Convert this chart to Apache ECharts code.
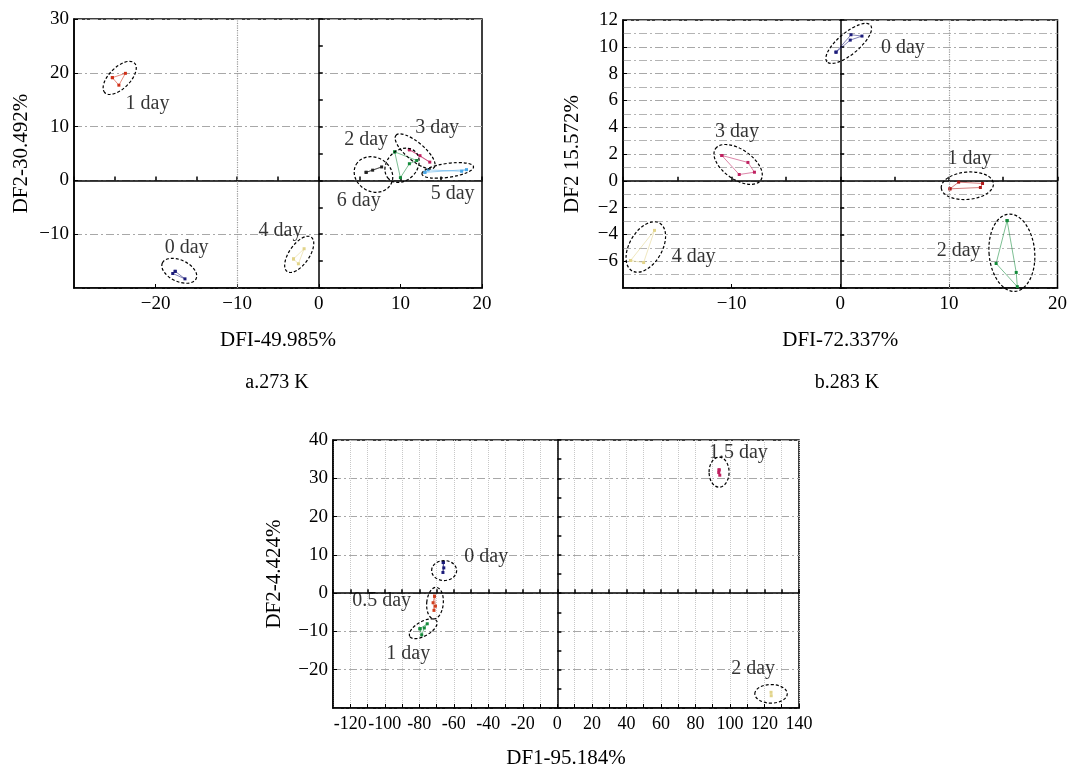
<!DOCTYPE html>
<html><head><meta charset="utf-8">
<script src="https://cdn.jsdelivr.net/npm/echarts@6/dist/echarts.min.js"></script>
<style>html,body{margin:0;padding:0;background:#fff}#c{width:1070px;height:774px}</style>
</head><body><div id="c"></div>
<script>
// ---------------- panel a : 273 K ----------------
const aXName = 'DFI-49.985%', aYName = 'DF2-30.492%', aCaption = 'a.273 K';
const aDay0 = [[-17.6,-16.9],[-17.9,-17.3],[-16.4,-18.3]];
const aDay1 = [[-25.3,19.1],[-23.7,19.9],[-24.5,17.7]];
const aDay2 = [[9.3,5.3],[12.0,3.7],[11.1,3.1],[10.0,0.5]];
const aDay3 = [[11.1,5.7],[12.4,4.6],[13.6,3.4]];
const aDay4 = [[-3.1,-14.6],[-1.8,-12.7],[-2.5,-15.5]];
const aDay5 = [[13.0,1.5],[18.1,2.0],[17.5,1.7],[13.4,1.95]];
const aDay6 = [[5.8,1.5],[7.7,2.5],[6.6,1.9]];
// ellipse: [centre x, centre y, half-axis (x units), half-axis (y units), tilt deg]
const aEllipses = [[-17.1,-16.8,2.28,1.99,-25],[-24.4,19.05,2.57,1.95,45],[10.2,2.8,2.33,2.79,45],[11.8,5.4,3.06,1.69,-40],[-2.4,-13.75,2.57,1.86,55],[15.8,1.86,3.19,1.3,8],[6.7,1.1,2.45,3.16,-30]];
const aLabels = ['0 day','1 day','2 day','3 day','4 day','5 day','6 day'];
const aLabelPos = [[-16.2,-12.5],[-21.0,14.3],[5.8,7.6],[14.5,9.85],[-4.7,-9.3],[16.4,-2.4],[4.9,-3.7]];
const aVGrid = [-10];

// ---------------- panel b : 283 K ----------------
const bXName = 'DFI-72.337%', bYName = 'DF2 15.572%', bCaption = 'b.283 K';
const bDay0 = [[-0.39,9.6],[0.92,10.5],[2.0,10.8],[0.99,10.9]];
const bDay1 = [[10.1,-0.6],[10.9,-0.1],[13.1,-0.2],[12.9,-0.5]];
const bDay2 = [[15.36,-2.97],[14.35,-6.17],[16.3,-7.9],[16.2,-6.84]];
const bDay3 = [[-10.9,1.89],[-8.5,1.37],[-7.9,0.64],[-9.3,0.47]];
const bDay4 = [[-19.3,-5.95],[-17.1,-3.7],[-18.1,-6.1]];
const bEllipses = [[0.78,10.25,2.62,0.8,40],[11.7,-0.37,2.41,1.02,5],[15.8,-5.37,2.1,2.89,5],[-9.4,1.22,2.54,1.11,-35],[-17.9,-4.94,2.54,1.22,60]];
const bLabels = ['0 day','1 day','2 day','3 day','4 day'];
const bLabelPos = [[5.76,9.9],[11.9,1.67],[10.9,-5.2],[-9.5,3.64],[-13.5,-5.7]];
const bVGrid = [10];

// ---------------- panel c ----------------
const cXName = 'DF1-95.184%', cYName = 'DF2-4.424%';
const cDay0 = [[-66.1,8.0],[-66.3,5.4],[-65.8,6.6]];
const cDay05 = [[-71.2,-0.8],[-72.0,-2.5],[-71.5,-4.5],[-70.6,-3.4]];
const cDay1 = [[-79.6,-9.3],[-75.4,-8.0],[-77.1,-9.1],[-78.6,-10.9]];
const cDay15 = [[93.7,32.2],[94.1,30.8],[93.5,31.5]];
const cDay2 = [[123.8,-25.9],[123.9,-26.8]];
const cEllipses = [[-65.6,5.9,7.24,2.61,0],[-70.9,-2.6,4.8,4.13,-5],[-77.7,-9.3,9.0,1.88,30],[93.7,31.6,5.8,3.92,0],[123.8,-26.3,9.4,2.43,0]];
const cLabels = ['0 day','0.5 day','1 day','1.5 day','2 day'];
const cLabelPos = [[-41.2,9.5],[-101.8,-1.9],[-86.4,-15.8],[104.9,36.8],[113.4,-19.8]];

// ---------------- styling ----------------
const FONT = '"Liberation Serif","DejaVu Serif",serif';
const C = {navy:'#1c1c7a', red:'#d03018', dred:'#b01818', ored:'#d04020', green:'#138a3a',
           mag:'#c02060', yel:'#e2d48a', blue:'#4aa8e8', blk:'#222'};
const dash = [8,3,2,3];

const chart = echarts.init(document.getElementById('c'), null, {renderer:'canvas'});

const grids = [
  {left:74, top:19, width:408, height:269},
  {left:623, top:20, width:435, height:268},
  {left:333, top:440, width:466, height:268}
].map(g => Object.assign(g, {show:true, borderColor:'#000', borderWidth:1.5, backgroundColor:'transparent', containLabel:false}));

function minusLong(v){ return String(v).replace('-', '\u2212'); }

function mainX(gi, min, max, interval, name, nameGap, opts) {
  return Object.assign({
    gridIndex:gi, type:'value', min, max, interval, position:'bottom', name, nameLocation:'middle', nameGap,
    nameTextStyle:{fontFamily:FONT, fontSize:21, color:'#000'},
    axisLine:{onZero:false, lineStyle:{color:'#000', width:1.5}},
    axisTick:{inside:true, length:4, lineStyle:{color:'#000'}},
    axisLabel:{showMinLabel:false, margin:7, fontFamily:FONT, fontSize:19, color:'#000', formatter:minusLong},
    splitLine:{show:false}
  }, opts || {});
}
function mainY(gi, min, max, interval, name, nameGap, opts) {
  return Object.assign({
    gridIndex:gi, type:'value', min, max, interval, position:'left', name, nameLocation:'middle', nameGap, nameRotate:90,
    nameTextStyle:{fontFamily:FONT, fontSize:21, color:'#000'},
    axisLine:{onZero:false, lineStyle:{color:'#000', width:1.5}},
    axisTick:{inside:true, length:4, lineStyle:{color:'#000'}},
    axisLabel:{showMinLabel:false, margin:5, fontFamily:FONT, fontSize:19, color:'#000', formatter:minusLong},
    splitLine:{show:true, lineStyle:{color:'#a8a8a8', type:dash, width:1}}
  }, opts || {});
}
function zeroX(gi, min, max, interval, otherIdx) {
  return {gridIndex:gi, type:'value', min, max, interval, position:'bottom',
    axisLine:{onZero:true, onZeroAxisIndex:otherIdx, lineStyle:{color:'#000', width:1.5}},
    axisTick:{inside:true, length:4, lineStyle:{color:'#000', width:1.5}},
    axisLabel:{show:false}, splitLine:{show:false}};
}
function zeroY(gi, min, max, interval, otherIdx) {
  return {gridIndex:gi, type:'value', min, max, interval, position:'left',
    axisLine:{onZero:true, onZeroAxisIndex:otherIdx, lineStyle:{color:'#000', width:1.5}},
    axisTick:{inside:true, length:4, lineStyle:{color:'#000', width:1.5}},
    axisLabel:{show:false}, splitLine:{show:false}};
}

const xAxes = [
  mainX(0, -30, 20, 10, aXName, 42),
  zeroX(0, -30, 20, 5, 0),
  mainX(1, -20, 20, 10, bXName, 42),
  zeroX(1, -20, 20, 5, 2),
  mainX(2, -130, 140, 10, cXName, 40, {
    axisLabel:{showMinLabel:false, margin:7, fontFamily:FONT, fontSize:18, color:'#000',
      formatter: v => (v % 20 === 0 ? String(v) : '')},
    splitLine:{show:true, lineStyle:{color:'#c8c8c8', type:'dotted', width:1}}
  }),
  zeroX(2, -130, 140, 10, 4)
];
const yAxes = [
  mainY(0, -20, 30, 10, aYName, 42),
  zeroY(0, -20, 30, 5, 0),
  mainY(1, -8, 12, 2, bYName, 40, {
    minorTick:{show:false, splitNumber:2},
    minorSplitLine:{show:true, lineStyle:{color:'#b4b4b4', type:dash, width:1}}
  }),
  zeroY(1, -8, 12, 2, 2),
  mainY(2, -30, 40, 10, cYName, 48),
  zeroY(2, -30, 40, 5, 4)
];

function groupSeries(ai, pts, color) {
  const d = pts.length > 2 ? pts.concat([pts[0]]) : pts.slice();
  return {type:'line', xAxisIndex:ai, yAxisIndex:ai, data:d, symbol:'rect', symbolSize:3, showSymbol:true,
    itemStyle:{color}, lineStyle:{color, width:1, opacity:0.55}, silent:true, z:3};
}
function renderEllipse(params, api) {
  const c = api.coord([api.value(0), api.value(1)]);
  const s = api.size([api.value(2), api.value(3)]);
  return {type:'ellipse', x:c[0], y:c[1], rotation: api.value(4) * Math.PI / 180,
    shape:{cx:0, cy:0, rx:s[0], ry:s[1]},
    style:{fill:null, stroke:'#000', lineWidth:1.2, lineDash:[3,2]}};
}
function ellipseSeries(ai, data) {
  return {type:'custom', xAxisIndex:ai, yAxisIndex:ai, data, renderItem:renderEllipse,
    encode:{x:0, y:1}, silent:true, z:4, clip:false};
}
function labelSeries(ai, pos, names, vgrid) {
  const s = {type:'scatter', xAxisIndex:ai, yAxisIndex:ai, symbolSize:0, silent:true, z:5,
    data: pos.map((p, i) => ({value:p, name:names[i]})),
    label:{show:true, position:'inside', formatter:'{b}', color:'#000', fontFamily:FONT, fontSize:20}};
  if (vgrid) {
    s.markLine = {silent:true, symbol:'none', label:{show:false},
      lineStyle:{color:'#999', type:'dotted', width:1.2}, data: vgrid.map(v => ({xAxis:v}))};
  }
  return s;
}

const series = [
  groupSeries(0, aDay0, C.navy), groupSeries(0, aDay1, C.red), groupSeries(0, aDay2, C.green),
  groupSeries(0, aDay3, C.mag), groupSeries(0, aDay4, C.yel), groupSeries(0, aDay5, C.blue), groupSeries(0, aDay6, C.blk),
  ellipseSeries(0, aEllipses), labelSeries(0, aLabelPos, aLabels, aVGrid),

  groupSeries(2, bDay0, C.navy), groupSeries(2, bDay1, C.dred), groupSeries(2, bDay2, C.green),
  groupSeries(2, bDay3, C.mag), groupSeries(2, bDay4, C.yel),
  ellipseSeries(2, bEllipses), labelSeries(2, bLabelPos, bLabels, bVGrid),

  groupSeries(4, cDay0, C.navy), groupSeries(4, cDay05, C.ored), groupSeries(4, cDay1, C.green),
  groupSeries(4, cDay15, C.mag), groupSeries(4, cDay2, C.yel),
  ellipseSeries(4, cEllipses), labelSeries(4, cLabelPos, cLabels, null)
];

chart.setOption({
  animation:false,
  backgroundColor:'#fff',
  grid:grids,
  xAxis:xAxes,
  yAxis:yAxes,
  graphic:[
    {type:'text', x:277, y:383, style:{text:aCaption, font:'20px ' + FONT, fill:'#000', textAlign:'center', textVerticalAlign:'middle'}},
    {type:'text', x:847, y:383, style:{text:bCaption, font:'20px ' + FONT, fill:'#000', textAlign:'center', textVerticalAlign:'middle'}}
  ],
  series
});
</script></body></html>
